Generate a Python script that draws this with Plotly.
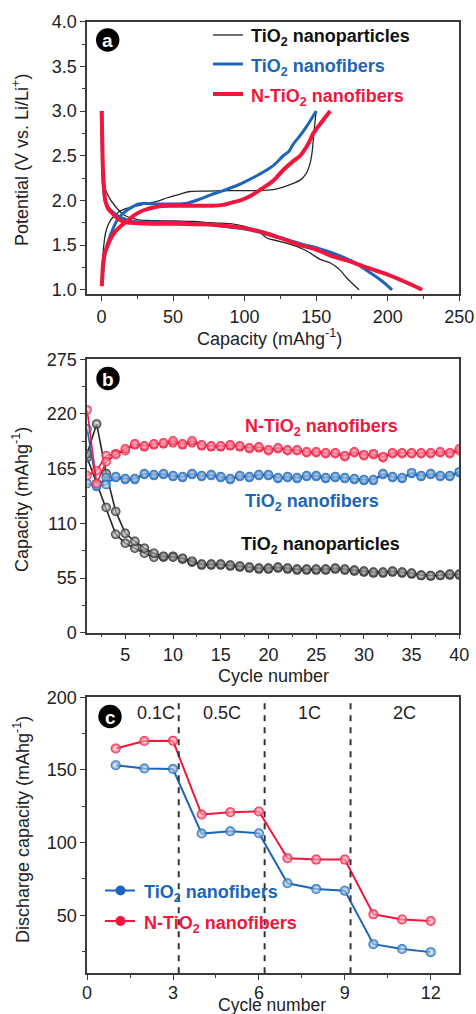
import plotly.graph_objects as go

# ---------------- Panel (a): charge/discharge profiles ----------------
np_dis_cap = [0.3, 0.6, 1.5, 2.8, 4.5, 6.3, 8.5, 11, 14, 17.9, 22, 27, 35, 50.5, 65, 76, 90, 100, 110, 115.6, 125, 138.8, 145, 152.8, 160, 166.7, 172, 176, 180]
np_dis_v = [2.45, 2.30, 2.20, 2.12, 2.06, 2.01, 1.96, 1.91, 1.86, 1.82, 1.80, 1.78, 1.775, 1.77, 1.765, 1.75, 1.74, 1.71, 1.65, 1.58, 1.54, 1.47, 1.42, 1.34, 1.30, 1.22, 1.12, 1.06, 1.0]
np_chg_cap = [0.3, 0.5, 1.0, 1.8, 2.8, 4.5, 6.5, 8.6, 12, 15.6, 22.5, 30, 38.9, 46, 55, 62, 75, 90, 105, 120, 127, 134, 139, 143, 145.5, 147, 148, 149, 150]
np_chg_v = [1.05, 1.22, 1.38, 1.52, 1.63, 1.72, 1.78, 1.82, 1.87, 1.90, 1.93, 1.96, 1.99, 2.03, 2.07, 2.10, 2.105, 2.11, 2.11, 2.12, 2.15, 2.19, 2.23, 2.30, 2.40, 2.52, 2.68, 2.85, 3.0]

nf_dis_cap = [0.3, 0.5, 0.8, 1.2, 2.0, 3.0, 5.0, 8.0, 11, 15, 20, 25, 35, 50, 75, 90, 100, 110, 120, 130, 140, 150, 165, 175, 185, 195, 203]
nf_dis_v = [3.0, 2.6, 2.35, 2.18, 2.05, 1.98, 1.92, 1.87, 1.83, 1.80, 1.77, 1.76, 1.755, 1.75, 1.73, 1.70, 1.68, 1.645, 1.60, 1.56, 1.51, 1.47, 1.39, 1.32, 1.22, 1.11, 1.0]
nf_chg_cap = [0.3, 0.6, 1.2, 2.5, 5.1, 8.0, 11, 14, 17.9, 22, 26, 30, 38.9, 50, 59.8, 68, 76, 85, 95, 100.5, 110, 120, 127, 131, 134, 139, 143, 147, 150]
nf_chg_v = [1.05, 1.13, 1.22, 1.40, 1.56, 1.68, 1.78, 1.84, 1.89, 1.93, 1.96, 1.965, 1.96, 1.96, 1.97, 2.01, 2.06, 2.11, 2.17, 2.21, 2.29, 2.39, 2.50, 2.55, 2.63, 2.73, 2.82, 2.92, 3.0]

nnf_dis_cap = [0.2, 0.5, 0.8, 1.2, 2.0, 2.8, 5.0, 8.6, 12, 15.6, 20.2, 25, 35, 50, 75, 90, 100.5, 115.6, 125, 138.8, 150, 162, 175, 185, 200, 212, 224]
nnf_dis_v = [3.0, 2.75, 2.5, 2.30, 2.12, 1.99, 1.90, 1.84, 1.79, 1.76, 1.75, 1.745, 1.74, 1.74, 1.73, 1.71, 1.69, 1.63, 1.58, 1.50, 1.45, 1.37, 1.31, 1.25, 1.17, 1.09, 1.0]
nnf_chg_cap = [0.3, 0.6, 1.2, 2.2, 4.0, 6.0, 8.6, 12, 15.6, 19, 22.5, 29.5, 38.9, 50.5, 65, 76, 85, 92, 97, 104, 111, 120, 127, 134, 138.8, 144, 148, 154, 159.8]
nnf_chg_v = [1.04, 1.15, 1.30, 1.40, 1.48, 1.56, 1.63, 1.69, 1.74, 1.78, 1.83, 1.89, 1.93, 1.94, 1.94, 1.94, 1.95, 1.98, 2.0, 2.05, 2.12, 2.22, 2.34, 2.44, 2.50, 2.62, 2.75, 2.88, 3.0]

# ---------------- Panel (b): cycling ----------------
cycles = list(range(1, 41))
np_cap_1 = [180, 210, 160, 122, 100, 92, 85, 80, 77, 76, 75, 72, 69, 69, 69, 68, 67, 66, 65, 65, 66, 65, 64, 64, 64, 64, 65, 64, 63, 62, 61, 61, 62, 61, 60, 58, 57.5, 58, 59, 59]
np_cap_2 = [176, 150, 126, 99, 90, 85, 80, 76, 76, 77, 74, 71, 68, 68, 68, 67, 66, 65, 64, 64, 65, 64, 63, 63, 63, 63, 64, 63, 62, 61, 60, 60, 61, 60, 59, 57.5, 57, 57.5, 58, 58]
nf_cap_1 = [205, 148, 149, 157, 155, 155, 160, 159, 160, 158, 157, 160, 158, 159, 157, 155, 158, 157, 159, 159, 156, 157, 156, 158, 158, 156, 157, 156, 155, 154, 154, 160, 157, 156, 161, 158, 160, 158, 158, 162]
nf_cap_2 = [150, 147, 156, 156, 154, 154, 159, 158, 159, 157, 156, 159, 157, 158, 156, 154, 157, 156, 158, 158, 155, 156, 155, 157, 157, 155, 156, 155, 154, 153, 153, 159, 156, 155, 160, 157, 159, 157, 157, 161]
nnf_cap_1 = [224, 150, 172, 179, 185, 190, 188, 190, 191, 193, 190, 193, 189, 188, 188, 189, 188, 186, 187, 184, 186, 184, 184, 182, 182, 181, 181, 178, 182, 179, 180, 177, 181, 181, 181, 181, 181, 182, 181, 185]
nnf_cap_2 = [158, 163, 178, 180, 183, 189, 187, 189, 190, 191, 189, 191, 188, 187, 187, 188, 187, 185, 186, 183, 185, 183, 183, 181, 181, 180, 180, 177, 181, 178, 179, 176, 180, 180, 180, 180, 180, 181, 180, 183]

# ---------------- Panel (c): rate capability ----------------
rate_cycles = list(range(1, 13))
nf_rate = [153.3, 151, 150.6, 106.2, 107.8, 106.4, 72, 68, 66.9, 30.1, 26.7, 24.6]
nnf_rate = [164.8, 169.9, 170.1, 119.3, 120.9, 121.4, 89.2, 88.3, 88.3, 50.6, 47.1, 46]
rate_bounds = [3.2, 6.2, 9.2]
rate_labels = ["0.1C", "0.5C", "1C", "2C"]
rate_label_x = [2.41, 4.72, 7.75, 11.1]

BLACK = "#262626"
BLUE = "#1B66B8"
RED = "#F2153C"
FONT = "Liberation Sans, Arial, sans-serif"
W, H = 476, 1014

def px_x(p):
    return p / W

def px_y(p):
    return 1 - p / H

fig = go.Figure()

# panel a
fig.add_trace(go.Scatter(x=np_dis_cap, y=np_dis_v, mode="lines", line=dict(color=BLACK, width=1.3, shape="spline"), xaxis="x", yaxis="y", showlegend=False))
fig.add_trace(go.Scatter(x=np_chg_cap, y=np_chg_v, mode="lines", line=dict(color=BLACK, width=1.3, shape="spline"), xaxis="x", yaxis="y", showlegend=False))
fig.add_trace(go.Scatter(x=nf_dis_cap, y=nf_dis_v, mode="lines", line=dict(color=BLUE, width=3, shape="spline"), xaxis="x", yaxis="y", showlegend=False))
fig.add_trace(go.Scatter(x=nf_chg_cap, y=nf_chg_v, mode="lines", line=dict(color=BLUE, width=3, shape="spline"), xaxis="x", yaxis="y", showlegend=False))
fig.add_trace(go.Scatter(x=nnf_dis_cap, y=nnf_dis_v, mode="lines", line=dict(color=RED, width=4, shape="spline"), xaxis="x", yaxis="y", showlegend=False))
fig.add_trace(go.Scatter(x=nnf_chg_cap, y=nnf_chg_v, mode="lines", line=dict(color=RED, width=4, shape="spline"), xaxis="x", yaxis="y", showlegend=False))

def sphere(color, size=10):
    return dict(color=color, size=size, line=dict(width=0),
                gradient=dict(type="radial", color="rgba(255,255,255,0.4)"))

# panel b
for ys, col in [(np_cap_2, BLACK), (np_cap_1, BLACK), (nf_cap_2, BLUE), (nf_cap_1, BLUE), (nnf_cap_2, RED), (nnf_cap_1, RED)]:
    fig.add_trace(go.Scatter(x=cycles, y=ys, mode="lines+markers", line=dict(color=col, width=1.6),
                             marker=sphere(col, 9.5), xaxis="x2", yaxis="y2", showlegend=False))

# panel c
fig.add_trace(go.Scatter(x=rate_cycles, y=nf_rate, mode="lines+markers", line=dict(color=BLUE, width=2),
                         marker=sphere(BLUE, 10), xaxis="x3", yaxis="y3", showlegend=False))
fig.add_trace(go.Scatter(x=rate_cycles, y=nnf_rate, mode="lines+markers", line=dict(color=RED, width=2),
                         marker=sphere(RED, 10), xaxis="x3", yaxis="y3", showlegend=False))

axis_common = dict(showline=True, linecolor="#3a3a3a", linewidth=1.5, mirror=True, ticks="outside",
                   ticklen=5, tickwidth=1.3, tickcolor="#3a3a3a", showgrid=False, zeroline=False,
                   automargin=False, tickfont=dict(family=FONT, size=18, color="#222"))

xdom = [0.183, 0.965]
fig.update_layout(
    width=W, height=H, margin=dict(l=0, r=0, t=0, b=0, autoexpand=False),
    paper_bgcolor="white", plot_bgcolor="white",
    font=dict(family=FONT, color="#222", size=18),
    xaxis=dict(axis_common, domain=xdom, anchor="y", range=[-10, 250], tickvals=[0, 50, 100, 150, 200, 250],
               minor=dict(dtick=25, tick0=0, ticklen=3, ticks="outside", tickcolor="#3a3a3a")),
    yaxis=dict(axis_common, domain=[0.7098, 0.9786], anchor="x", range=[0.95, 4.0], tickvals=[1.0, 1.5, 2.0, 2.5, 3.0, 3.5, 4.0],
               tickformat=".1f", minor=dict(dtick=0.25, tick0=0, ticklen=3, ticks="outside", tickcolor="#3a3a3a")),
    xaxis2=dict(axis_common, domain=xdom, anchor="y2", range=[1, 40], tickvals=[5, 10, 15, 20, 25, 30, 35, 40],
                minor=dict(dtick=2.5, tick0=0, ticklen=3, ticks="outside", tickcolor="#3a3a3a")),
    yaxis2=dict(axis_common, domain=[0.376, 0.6457], anchor="x2", range=[0, 275], tickvals=[0, 55, 110, 165, 220, 275],
                minor=dict(dtick=27.5, tick0=0, ticklen=3, ticks="outside", tickcolor="#3a3a3a")),
    xaxis3=dict(axis_common, domain=xdom, anchor="y3", range=[0, 13], tickvals=[0, 3, 6, 9, 12],
                ticklabelstandoff=-3,
                minor=dict(dtick=1.5, tick0=0, ticklen=3, ticks="outside", tickcolor="#3a3a3a")),
    yaxis3=dict(axis_common, domain=[0.0401, 0.3123], anchor="x3", range=[10, 200], tickvals=[50, 100, 150, 200],
                minor=dict(dtick=25, tick0=0, ticklen=3, ticks="outside", tickcolor="#3a3a3a")),
)

shapes = []
annotations = []

# rate boundaries
for xb in rate_bounds:
    shapes.append(dict(type="line", xref="x3", yref="y3 domain", x0=xb, x1=xb, y0=0, y1=1,
                       line=dict(color="#333", width=2, dash="6px,6px")))
for lab, lx in zip(rate_labels, rate_label_x):
    annotations.append(dict(text=lab, x=lx, y=189, xref="x3", yref="y3", showarrow=False,
                            font=dict(family=FONT, size=18, color="#222"), xanchor="center", yanchor="middle"))

# panel letters
for letter, cx, cy in [("a", 107.7, 40), ("b", 108, 378.5), ("c", 110, 716.5)]:
    shapes.append(dict(type="circle", xref="paper", yref="paper", xsizemode="pixel", ysizemode="pixel",
                       xanchor=px_x(cx), yanchor=px_y(cy), x0=-11.7, x1=11.7, y0=-11.7, y1=11.7,
                       fillcolor="black", line=dict(width=0)))
    annotations.append(dict(text="<b>%s</b>" % letter, x=px_x(cx), y=px_y(cy + 1), xref="paper", yref="paper",
                            showarrow=False, font=dict(family=FONT, size=19, color="white"),
                            xanchor="center", yanchor="middle"))

# axis titles
for txt, x, y, ang, fs in [
    ("Potential (V vs. Li/Li<sup>+</sup>)", 20, 160, -90, 18),
    ("Capacity (mAhg<sup>-1</sup>)", 269, 337, 0, 18),
    ("Capacity (mAhg<sup>-1</sup>)", 20, 500, -90, 18),
    ("Cycle number", 273, 676, 0, 18),
    ("Discharge capacity (mAhg<sup>-1</sup>)", 21, 830, -90, 18),
    ("Cycle number", 272, 1004.5, 0, 17.5),
]:
    annotations.append(dict(text=txt, x=px_x(x), y=px_y(y), xref="paper", yref="paper", showarrow=False,
                            font=dict(family=FONT, size=fs, color="#222"), textangle=ang,
                            xanchor="center", yanchor="middle"))

# legend panel a
lfont_size = 18
for name, col, wid, py in [("TiO<sub>2</sub> nanoparticles", BLACK, 1.3, 35),
                           ("TiO<sub>2</sub> nanofibers", BLUE, 3, 64),
                           ("N-TiO<sub>2</sub> nanofibers", RED, 4, 94)]:
    shapes.append(dict(type="line", xref="paper", yref="paper", x0=px_x(213), x1=px_x(243), y0=px_y(py), y1=px_y(py),
                       line=dict(color=col, width=wid)))
    annotations.append(dict(text="<b>%s</b>" % name, x=px_x(249), y=px_y(py + 3), xref="paper", yref="paper",
                            showarrow=False, font=dict(family=FONT, size=lfont_size, color=col if col != BLACK else "#111"),
                            xanchor="left", yanchor="middle"))

# labels panel b
for name, col, px0, py in [("N-TiO<sub>2</sub> nanofibers", RED, 243, 425),
                           ("TiO<sub>2</sub> nanofibers", BLUE, 243, 499.5),
                           ("TiO<sub>2</sub> nanoparticles", "#111", 239, 542)]:
    annotations.append(dict(text="<b>%s</b>" % name, x=px_x(px0), y=px_y(py + 3), xref="paper", yref="paper",
                            showarrow=False, font=dict(family=FONT, size=lfont_size, color=col),
                            xanchor="left", yanchor="middle"))

# legend panel c
for name, col, py in [("TiO<sub>2</sub> nanofibers", BLUE, 890.5), ("N-TiO<sub>2</sub> nanofibers", RED, 921)]:
    shapes.append(dict(type="line", xref="paper", yref="paper", x0=px_x(105), x1=px_x(135), y0=px_y(py), y1=px_y(py),
                       line=dict(color=col, width=2)))
    shapes.append(dict(type="circle", xref="paper", yref="paper", xsizemode="pixel", ysizemode="pixel",
                       xanchor=px_x(120.5), yanchor=px_y(py), x0=-5, x1=5, y0=-5, y1=5,
                       fillcolor=col, line=dict(width=0)))
    annotations.append(dict(text="<b>%s</b>" % name, x=px_x(142), y=px_y(py + 3), xref="paper", yref="paper",
                            showarrow=False, font=dict(family=FONT, size=lfont_size, color=col),
                            xanchor="left", yanchor="middle"))

fig.update_layout(shapes=shapes, annotations=annotations)
fig.write_html("out.html")
